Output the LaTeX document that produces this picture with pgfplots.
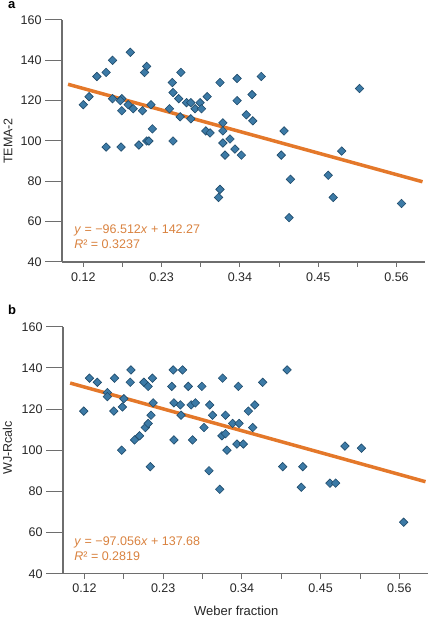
\documentclass[border=0pt]{standalone}
\usepackage{fontspec}
\setmainfont{Liberation Sans}
\usepackage{pgfplots}
\pgfplotsset{compat=1.18}

\definecolor{markfill}{HTML}{3C7AA6}
\definecolor{markedge}{HTML}{1F4B6B}
\definecolor{fitline}{HTML}{E4782A}
\definecolor{eqtext}{HTML}{D9823F}
\definecolor{axisgray}{HTML}{6E6E6E}

% Panel a: TEMA-2 score against Weber fraction
\pgfplotstableread{
w     s
0.120 118
0.128 122
0.139 132
0.152 134
0.161 140
0.186 144
0.161 121
0.174 121
0.172 120
0.174 115
0.183 118
0.190 116
0.203 115
0.206 134
0.209 137
0.215 118
0.217 106
0.209 100
0.212 100
0.198 98
0.173 97
0.152 97
0.241 116
0.246 124
0.245 129
0.257 134
0.254 121
0.256 112
0.271 111
0.265 119
0.271 119
0.277 116
0.284 119
0.286 116
0.294 122
0.246 100
0.292 105
0.298 104
0.312 129
0.316 109
0.316 105
0.316 99
0.326 101
0.336 131
0.336 120
0.349 113
0.357 123
0.358 110
0.370 132
0.333 96
0.319 93
0.342 93
0.402 105
0.398 93
0.483 95
0.508 126
0.464 83
0.411 81
0.471 72
0.409 62
0.567 69
0.312 76
0.310 72
}\temadata

% Panel b: WJ-Rcalc score against Weber fraction
\pgfplotstableread{
w     s
0.119 119
0.127 135
0.138 133
0.152 128
0.152 126
0.162 135
0.161 119
0.173 121
0.175 125
0.185 139
0.184 133
0.172 100
0.190 105
0.197 107
0.205 111
0.209 113
0.203 133
0.209 131
0.215 135
0.216 123
0.213 117
0.242 131
0.244 139
0.257 139
0.245 123
0.254 122
0.255 117
0.245 105
0.265 131
0.269 122
0.275 123
0.284 131
0.271 105
0.287 111
0.295 122
0.299 117
0.313 135
0.317 117
0.312 107
0.317 108
0.327 113
0.319 100
0.335 131
0.336 113
0.333 103
0.342 103
0.349 119
0.358 122
0.355 111
0.369 133
0.403 139
0.484 102
0.507 101
0.212 92
0.294 90
0.309 81
0.397 92
0.425 92
0.423 82
0.463 84
0.471 84
0.566 65
}\wjdata

\pgfplotsset{
  weber/.style={
    scale only axis,
    xmin=0.09, xmax=0.60, ymin=40, ymax=160,
    axis x line=bottom, axis y line=left,
    axis line style={-, draw=axisgray, line width=1.1pt},
    tick align=outside,
    major tick length=5pt, minor tick length=5pt,
    xtick={0.12,0.23,0.34,0.45,0.56},
    xticklabels={0.12,0.23,0.34,0.45,0.56},
    minor xtick={0.175,0.285,0.395,0.505},
    ytick={40,60,...,160},
    tick style={draw=axisgray, line width=1pt},
    /pgf/number format/assume math mode=true,
    ticklabel style={font=\fontsize{12.5}{14}\selectfont, text=black!85},
    xticklabel style={yshift=-2pt},
    yticklabel style={xshift=-12pt},
    clip=false,
  },
  dots/.style={only marks, mark=square*, mark size=3pt,
    mark options={rotate=45, fill=markfill, draw=markedge, line width=0.6pt}},
  fit/.style={fitline, line width=3.5pt, line cap=butt},
}

\begin{document}
\begin{tikzpicture}[x=1pt,y=1pt]
\useasboundingbox (0,0) rectangle (430,630);

% ---- panel a ----
\begin{axis}[weber, at={(62pt,368pt)}, anchor=south west, width=363pt, height=242pt]
  % long outward ticks on the value axis
  \pgfplotsinvokeforeach{40,60,...,160}{
    \draw[axisgray, line width=1pt] (axis cs:0.09,#1) -- ++(-17pt,0pt);
  }
  \addplot[dots] table[x=w, y=s] {\temadata};
  \addplot[fit] coordinates {(0.0985,128.12) (0.5965,79.79)};
  \node[anchor=base west, inner sep=0, text=eqtext, font=\fontsize{12.5}{14}\selectfont]
    at (axis cs:0.107,54.25) {\textit{y} = −96.512\textit{x} + 142.27};
  \node[anchor=base west, inner sep=0, text=eqtext, font=\fontsize{12.5}{14}\selectfont]
    at (axis cs:0.107,46.6) {\textit{R}² = 0.3237};
\end{axis}
\node[rotate=90, font=\fontsize{12.5}{14}\selectfont, text=black!85] at (8,489) {TEMA-2};
\node[anchor=base west, inner sep=0, font=\bfseries\fontsize{13}{15}\selectfont] at (8,621) {a};

% ---- panel b ----
\begin{axis}[weber, at={(63pt,56.3pt)}, anchor=south west, width=365pt, height=247pt]
  % long outward ticks on the value axis
  \pgfplotsinvokeforeach{40,60,...,160}{
    \draw[axisgray, line width=1pt] (axis cs:0.09,#1) -- ++(-17pt,0pt);
  }
  \addplot[dots] table[x=w, y=s] {\wjdata};
  \addplot[fit] coordinates {(0.1000,132.62) (0.5965,84.70)};
  \node[anchor=base west, inner sep=0, text=eqtext, font=\fontsize{12.5}{14}\selectfont]
    at (axis cs:0.1056,53.9) {\textit{y} = −97.056\textit{x} + 137.68};
  \node[anchor=base west, inner sep=0, text=eqtext, font=\fontsize{12.5}{14}\selectfont]
    at (axis cs:0.1056,46.3) {\textit{R}² = 0.2819};
\end{axis}
\node[rotate=90, font=\fontsize{12.5}{14}\selectfont, text=black!85] at (7.5,182) {WJ-Rcalc};
\node[anchor=base west, inner sep=0, font=\bfseries\fontsize{13}{15}\selectfont] at (8,315) {b};
\node[font=\fontsize{13}{15}\selectfont, text=black!85] at (236.3,19.3) {Weber fraction};
\end{tikzpicture}
\end{document}
